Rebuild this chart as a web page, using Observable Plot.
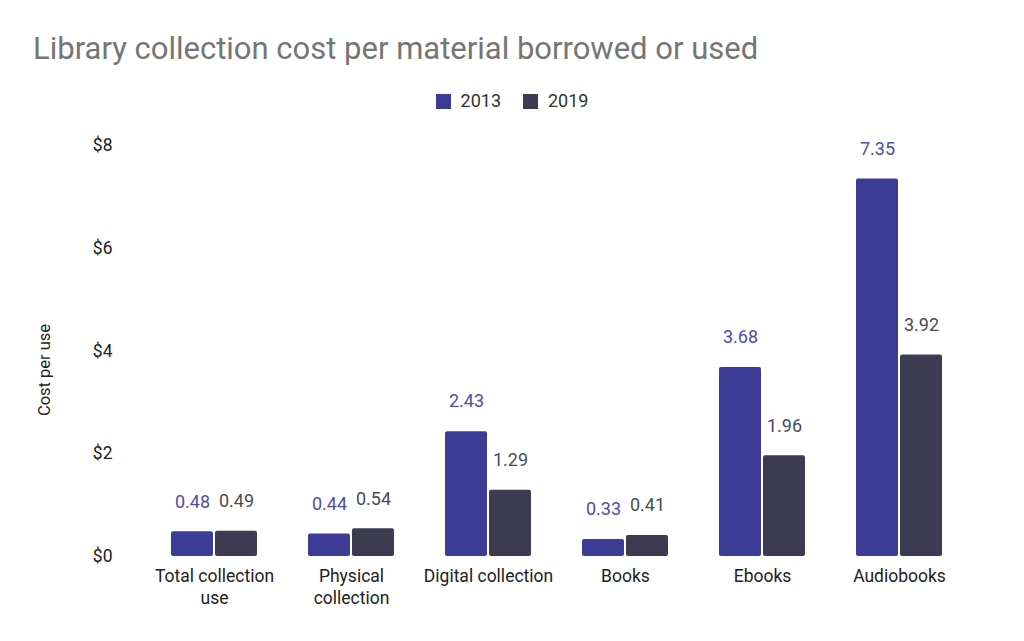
<!DOCTYPE html>
<html>
<head>
<meta charset="utf-8">
<script src="https://cdn.jsdelivr.net/npm/d3@7"></script>
<script src="https://cdn.jsdelivr.net/npm/@observablehq/plot@0.6"></script>
<style>
  html, body { margin: 0; padding: 0; background: #fff; font-family: Roboto, "Noto Sans", sans-serif; }
  #title { position: absolute; left: 33px; top: 29px; font-size: 31px; color: #757575; font-weight: 400; white-space: nowrap; line-height: 40px; }
  #legend { position: absolute; top: 90px; left: 0; width: 1024px; display: flex; justify-content: center; gap: 22px; font-size: 18px; color: #333; line-height: 22px; }
  #legend span.item { display: flex; align-items: center; gap: 10px; }
  #legend span.sw { width: 15px; height: 15px; display: inline-block; }
  #ylabel { position: absolute; z-index: 2; left: 44px; top: 370px; transform: translate(-50%, -50%) rotate(-90deg); font-size: 16.5px; color: #222; white-space: nowrap; }
  #chart { position: absolute; z-index: 1; left: 0; top: 120px; }
</style>
</head>
<body>
<div id="title">Library collection cost per material borrowed or used</div>
<div id="legend"></div>
<div id="ylabel">Cost per use</div>
<div id="chart"></div>
<script>
const categories = ["Total collection use", "Physical collection", "Digital collection", "Books", "Ebooks", "Audiobooks"];
const categoryLabels = ["Total collection\nuse", "Physical\ncollection", "Digital collection", "Books", "Ebooks", "Audiobooks"];
const years = ["2013", "2019"];
const values2013 = [0.48, 0.44, 2.43, 0.33, 3.68, 7.35];
const values2019 = [0.49, 0.54, 1.29, 0.41, 1.96, 3.92];
const yTicks = [0, 2, 4, 6, 8];
const barColors = ["#3c3b96", "#3d3b52"];
const labelColors = ["#4f4dab", "#4b4b55"];

const data = [];
categories.forEach((c, i) => {
  data.push({category: c, year: "2013", value: values2013[i]});
  data.push({category: c, year: "2019", value: values2019[i]});
});

const legend = document.getElementById("legend");
years.forEach((y, i) => {
  const item = document.createElement("span");
  item.className = "item";
  item.innerHTML = `<span class="sw" style="background:${barColors[i]}"></span><span>${y}</span>`;
  legend.appendChild(item);
});

const chart = Plot.plot({
  width: 1024,
  height: 521,
  marginTop: 25,
  marginBottom: 85,
  marginLeft: 170,
  marginRight: 81,
  style: {fontFamily: "Roboto, 'Noto Sans', sans-serif", fontSize: "17px", color: "#222", background: "white"},
  fx: {domain: categories, paddingInner: 0.36, paddingOuter: 0, axis: null},
  x: {domain: years, axis: null, paddingInner: 0.04, paddingOuter: 0},
  y: {domain: [0, 8], axis: null},
  color: {domain: years, range: barColors},
  marks: [
    Plot.axisY({ticks: yTicks, tickFormat: d => "$" + d, tickSize: 0, tickPadding: 58, label: null, fontSize: 17.5}),
    Plot.axisFx({anchor: "bottom", tickSize: 0, tickPadding: 9, label: null, lineHeight: 1.3, fontSize: 17.5,
      tickFormat: d => categoryLabels[categories.indexOf(d)]}),
    Plot.barY(data, {fx: "category", x: "year", y: "value", fill: "year", rx: 2}),
    Plot.text(data.filter(d => d.year === "2013"), {fx: "category", x: "year", y: "value",
      text: d => d.value.toFixed(2), dy: -30, fill: labelColors[0], fontSize: 18}),
    Plot.text(data.filter(d => d.year === "2019"), {fx: "category", x: "year", y: "value",
      text: d => d.value.toFixed(2), dy: -30, fill: labelColors[1], fontSize: 18})
  ]
});
document.getElementById("chart").appendChild(chart);
</script>
</body>
</html>
